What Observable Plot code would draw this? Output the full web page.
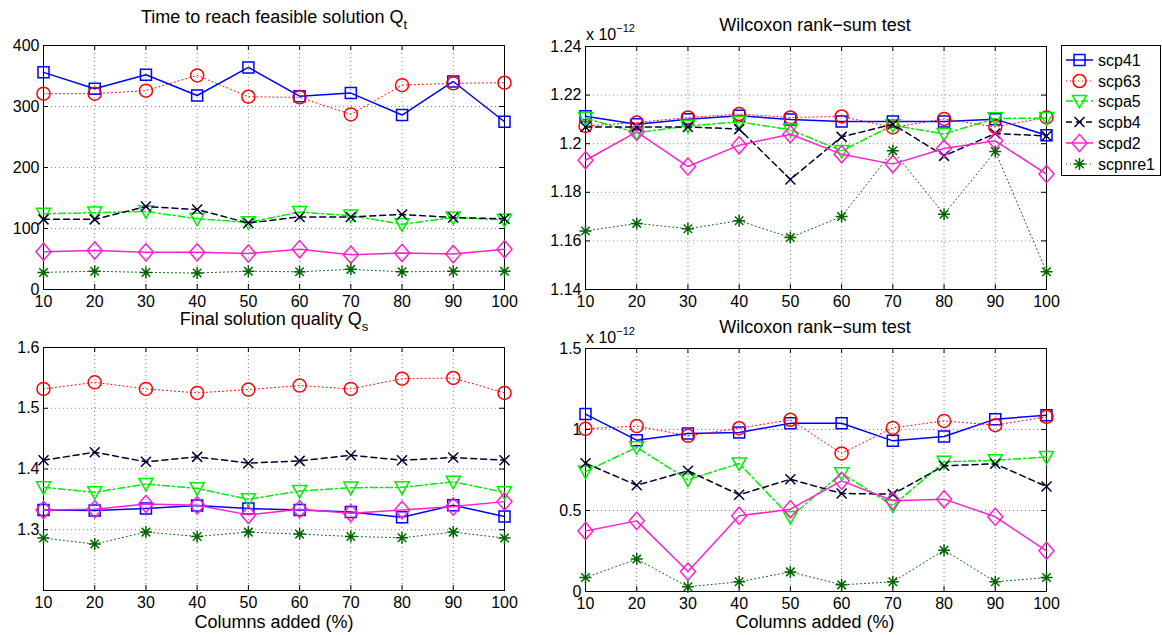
<!DOCTYPE html>
<html>
<head>
<meta charset="utf-8">
<script src="https://cdn.jsdelivr.net/npm/d3@7"></script>
<script src="https://cdn.jsdelivr.net/npm/@observablehq/plot@0.6"></script>
<style>
  html, body { margin: 0; padding: 0; background: #fff; }
  #wrap { position: relative; width: 1162px; height: 635px; background: #fff; overflow: hidden;
          font-family: "Liberation Sans", Arial, Helvetica, sans-serif; }
  #wrap > svg { position: absolute; }
</style>
</head>
<body>
<div id="wrap"></div>
<script>
// ---------------- data ----------------
const cols = [10, 20, 30, 40, 50, 60, 70, 80, 90, 100];
const seriesNames = ["scp41", "scp63", "scpa5", "scpb4", "scpd2", "scpnre1"];

// Time to reach feasible solution Q_t (rows follow seriesNames)
const timeQt = [
  [356, 329, 352, 318, 364, 317, 322, 286, 341, 275],
  [321, 321, 326, 351, 316, 315, 287, 335, 338, 339],
  [124, 126, 128, 116, 110, 127, 121, 107, 118, 114],
  [115, 115, 136, 131, 109, 119, 119, 123, 118, 116],
  [62, 64, 61, 61, 59, 66, 57, 60, 58, 66],
  [28, 30, 28, 27, 30, 29, 33, 29, 30, 30]
];
// Wilcoxon rank-sum test (top), in units of 1e-12
const wilcoxonTop = [
  [1.2113, 1.2080, 1.2101, 1.2115, 1.2100, 1.2091, 1.2091, 1.2091, 1.2101, 1.2035],
  [1.2073, 1.2087, 1.2108, 1.2122, 1.2108, 1.2112, 1.2067, 1.2102, 1.2069, 1.2108],
  [1.2105, 1.2045, 1.2073, 1.2090, 1.2058, 1.1970, 1.2076, 1.2040, 1.2104, 1.2105],
  [1.2069, 1.2069, 1.2069, 1.2060, 1.1853, 1.2028, 1.2080, 1.1950, 1.2042, 1.2032],
  [1.1932, 1.2049, 1.1906, 1.1994, 1.2039, 1.1957, 1.1916, 1.1980, 1.2012, 1.1875],
  [1.1641, 1.1672, 1.1650, 1.1683, 1.1614, 1.1700, 1.1971, 1.1710, 1.1968, 1.1473]
];
// Final solution quality Q_s
const qualityQs = [
  [1.3327, 1.3316, 1.3349, 1.3398, 1.3349, 1.3327, 1.3294, 1.3207, 1.3403, 1.3218],
  [1.5318, 1.5427, 1.5318, 1.5253, 1.5307, 1.5373, 1.5318, 1.5487, 1.5498, 1.5253],
  [1.3698, 1.3616, 1.3752, 1.3681, 1.3501, 1.3638, 1.3692, 1.3698, 1.3790, 1.3616],
  [1.4145, 1.4276, 1.4118, 1.4200, 1.4096, 1.4134, 1.4227, 1.4145, 1.4189, 1.4145],
  [1.3327, 1.3338, 1.3425, 1.3403, 1.3245, 1.3338, 1.3272, 1.3327, 1.3381, 1.3463],
  [1.2863, 1.2765, 1.2961, 1.2890, 1.2961, 1.2928, 1.2890, 1.2869, 1.2961, 1.2863]
];
// Wilcoxon rank-sum test (bottom), in units of 1e-12
const wilcoxonBottom = [
  [1.095, 0.934, 0.975, 0.981, 1.039, 1.039, 0.930, 0.957, 1.064, 1.088],
  [1.004, 1.021, 0.961, 1.008, 1.060, 0.852, 1.010, 1.053, 1.027, 1.078],
  [0.74, 0.89, 0.69, 0.79, 0.46, 0.73, 0.53, 0.80, 0.81, 0.83],
  [0.792, 0.656, 0.745, 0.597, 0.693, 0.605, 0.601, 0.776, 0.788, 0.648],
  [0.374, 0.436, 0.123, 0.467, 0.508, 0.683, 0.560, 0.570, 0.461, 0.251],
  [0.086, 0.200, 0.029, 0.060, 0.121, 0.041, 0.060, 0.255, 0.060, 0.086]
];

const timeTicks = [0, 100, 200, 300, 400];
const wilTopTicks = [1.14, 1.16, 1.18, 1.2, 1.22, 1.24];
const qualityTicks = [1.3, 1.4, 1.5, 1.6];
const wilBotTicks = [0, 0.5, 1, 1.5];

// ---------------- styles ----------------
const seriesColors = ["#0000ff", "#ff0000", "#00ee00", "#00002e", "#ff22cc", "#006400"];
const seriesDash = [null, "1,3", "7,3,2,3", "6,4", null, "1,3"];
const seriesWidth = [1.5, 1, 1.5, 1.5, 1.5, 1];
const seriesRadius = [5.5, 6.5, 7, 5, 7.5, 6];

const rad = s => Math.sqrt(s / Math.PI);
const symbols = [
  { draw(c, s) { const r = rad(s); c.rect(-r, -r, 2 * r, 2 * r); } },
  { draw(c, s) { const r = rad(s); c.moveTo(r, 0); c.arc(0, 0, r, 0, 2 * Math.PI); } },
  { draw(c, s) { const r = rad(s); c.moveTo(-r, -0.8 * r); c.lineTo(r, -0.8 * r); c.lineTo(0, r); c.closePath(); } },
  { draw(c, s) { const r = rad(s); c.moveTo(-r, -r); c.lineTo(r, r); c.moveTo(-r, r); c.lineTo(r, -r); } },
  { draw(c, s) { const r = rad(s); const h = 1.15 * r; c.moveTo(0, -h); c.lineTo(r, 0); c.lineTo(0, h); c.lineTo(-r, 0); c.closePath(); } },
  { draw(c, s) { const r = rad(s); const d = r * Math.SQRT1_2;
      c.moveTo(-r, 0); c.lineTo(r, 0); c.moveTo(0, -r); c.lineTo(0, r);
      c.moveTo(-d, -d); c.lineTo(d, d); c.moveTo(-d, d); c.lineTo(d, -d); } }
];

const FONT = '"Liberation Sans", Arial, Helvetica, sans-serif';
const wrap = document.getElementById("wrap");

function panel({ values, yDomain, yTicks, left, top, width, height, mL, mR, mT, mB }) {
  const rows = [];
  values.forEach((arr, si) => arr.forEach((v, i) => rows.push({ si, col: cols[i], val: v })));
  const fw = width - mL - mR, fh = height - mT - mB;
  const gridStyle = { stroke: "#666", strokeWidth: 0.8, strokeDasharray: "1,3" };
  const marks = [
    Plot.ruleX(cols, gridStyle),
    Plot.ruleY(yTicks, gridStyle),
    Plot.ruleX(cols, { insetTop: fh - 5, stroke: "black" }),
    Plot.ruleX(cols, { insetBottom: fh - 5, stroke: "black" }),
    Plot.ruleY(yTicks, { insetRight: fw - 5, stroke: "black" }),
    Plot.ruleY(yTicks, { insetLeft: fw - 5, stroke: "black" }),
    Plot.frame({ stroke: "black", strokeWidth: 1 })
  ];
  seriesNames.forEach((name, si) => {
    const d = rows.filter(r => r.si === si);
    marks.push(Plot.line(d, {
      x: "col", y: "val", stroke: seriesColors[si], strokeWidth: seriesWidth[si],
      strokeDasharray: seriesDash[si] || undefined
    }));
    marks.push(Plot.dot(d, {
      x: "col", y: "val", symbol: symbols[si], r: seriesRadius[si],
      stroke: seriesColors[si], strokeWidth: 1.5, fill: "none"
    }));
  });
  const svg = Plot.plot({
    width, height,
    marginLeft: mL, marginRight: mR, marginTop: mT, marginBottom: mB,
    x: { domain: [10, 100], ticks: cols, tickSize: 0, tickPadding: 6, tickFormat: d => String(d), label: null },
    y: { domain: yDomain, ticks: yTicks, tickSize: 0, tickPadding: 4, tickFormat: d => String(d), label: null },
    style: { fontSize: "16px", fontFamily: FONT, color: "black", background: "transparent", overflow: "visible" },
    marks
  });
  svg.style.left = left + "px";
  svg.style.top = top + "px";
  wrap.appendChild(svg);
}

panel({ values: timeQt, yDomain: [0, 400], yTicks: timeTicks,
        left: 0, top: 0, width: 520, height: 310, mL: 43, mR: 16, mT: 45, mB: 21 });
panel({ values: wilcoxonTop, yDomain: [1.14, 1.24], yTicks: wilTopTicks,
        left: 520, top: 0, width: 540, height: 310, mL: 65, mR: 14, mT: 46, mB: 21 });
panel({ values: qualityQs, yDomain: [1.2, 1.6], yTicks: qualityTicks,
        left: 0, top: 310, width: 520, height: 325, mL: 43, mR: 16, mT: 37, mB: 45 });
panel({ values: wilcoxonBottom, yDomain: [0, 1.5], yTicks: wilBotTicks,
        left: 520, top: 310, width: 540, height: 325, mL: 65, mR: 14, mT: 38, mB: 44 });

// ---------------- titles, labels, legend ----------------
const ov = d3.select(wrap).append("svg")
  .attr("width", 1162).attr("height", 635)
  .style("left", "0px").style("top", "0px")
  .style("font-family", FONT).style("pointer-events", "none");

function titleSub(x, y, main, sub) {
  const t = ov.append("text").attr("x", x).attr("y", y).attr("text-anchor", "middle").attr("font-size", 18);
  t.append("tspan").text(main);
  if (sub) t.append("tspan").attr("font-size", 13).attr("dy", 6).text(sub);
}
titleSub(274, 23, "Time to reach feasible solution Q", "t");
titleSub(815, 31, "Wilcoxon rank\u2212sum test");
titleSub(274, 325, "Final solution quality Q", "s");
titleSub(815, 333, "Wilcoxon rank\u2212sum test");
titleSub(274, 628, "Columns added (%)");
titleSub(815, 628, "Columns added (%)");

function expo(x, y) {
  const t = ov.append("text").attr("x", x).attr("y", y).attr("font-size", 16);
  t.append("tspan").text("x 10");
  t.append("tspan").attr("font-size", 11).attr("dy", -8).text("\u221212");
}
expo(586, 40);
expo(586, 343);

// legend
const lg = ov.append("g");
lg.append("rect").attr("x", 1061.5).attr("y", 45.5).attr("width", 99).attr("height", 130)
  .attr("fill", "white").attr("stroke", "black").attr("stroke-width", 1);
const legendY = [60, 81, 101, 122, 143, 164];
seriesNames.forEach((name, si) => {
  const y = legendY[si];
  lg.append("line").attr("x1", 1066).attr("x2", 1093).attr("y1", y).attr("y2", y)
    .attr("stroke", seriesColors[si]).attr("stroke-width", seriesWidth[si])
    .attr("stroke-dasharray", seriesDash[si]);
  lg.append("path").attr("transform", `translate(1079.5,${y})`)
    .attr("d", d3.symbol(symbols[si], Math.PI * seriesRadius[si] ** 2)())
    .attr("fill", "none").attr("stroke", seriesColors[si]).attr("stroke-width", 1.5);
  lg.append("text").attr("x", 1098).attr("y", y).attr("dy", "0.35em").attr("font-size", 16).text(name);
});
</script>
</body>
</html>
